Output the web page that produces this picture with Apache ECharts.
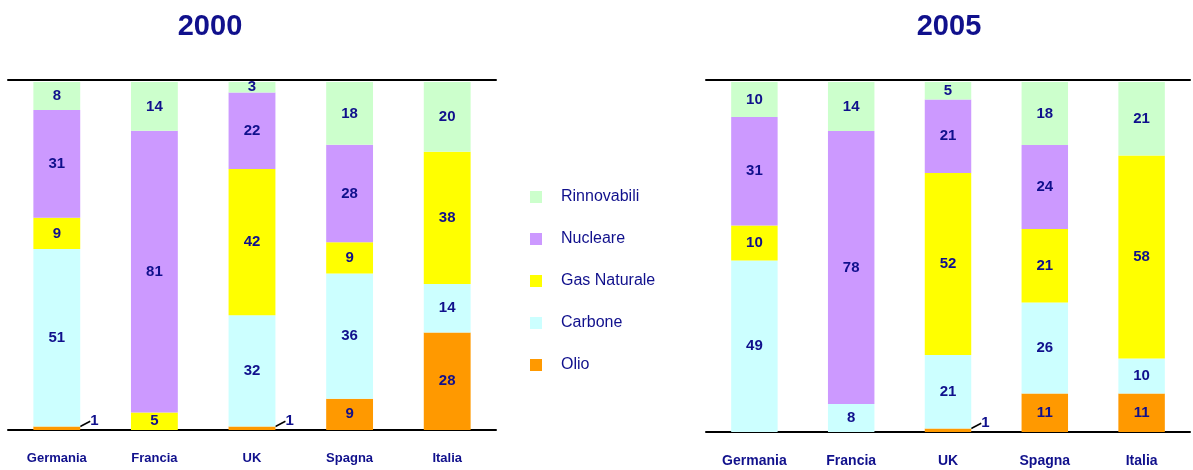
<!DOCTYPE html>
<html><head><meta charset="utf-8">
<script src="https://cdn.jsdelivr.net/npm/echarts@6/dist/echarts.min.js"></script>
<style>html,body{margin:0;padding:0;background:#fff}#c{width:1193px;height:470px}</style>
</head><body><div id="c"></div>
<script>
const categories = ['Germania','Francia','UK','Spagna','Italia'];
const seriesNames = ['Olio','Carbone','Gas Naturale','Nucleare','Rinnovabili'];
const legendOrder = ['Rinnovabili','Nucleare','Gas Naturale','Carbone','Olio'];
// 2000
const olio2000 = [1, 0, 1, 9, 28];
const carbone2000 = [51, 0, 32, 36, 14];
const gas2000 = [9, 5, 42, 9, 38];
const nucleare2000 = [31, 81, 22, 28, 0];
const rinnovabili2000 = [8, 14, 3, 18, 20];
// 2005
const olio2005 = [0, 0, 1, 11, 11];
const carbone2005 = [49, 8, 21, 26, 10];
const gas2005 = [10, 0, 52, 21, 58];
const nucleare2005 = [31, 78, 21, 24, 0];
const rinnovabili2005 = [10, 14, 5, 18, 21];
const titles = ['2000', '2005'];

const colors = {'Olio':'#ff9900','Carbone':'#ccffff','Gas Naturale':'#ffff00','Nucleare':'#cc99ff','Rinnovabili':'#ccffcc'};
const navy = '#10108c';
const font = 'Liberation Sans, Arial, sans-serif';
const data = [
  [olio2000, carbone2000, gas2000, nucleare2000, rinnovabili2000],
  [olio2005, carbone2005, gas2005, nucleare2005, rinnovabili2005]
];

const chart = echarts.init(document.getElementById('c'));
const series = [];
data.forEach((sets, g) => {
  sets.forEach((vals, i) => {
    const name = seriesNames[i];
    series.push({
      name: name, type: 'bar', stack: 'y' + g, xAxisIndex: g * 2, yAxisIndex: g,
      barWidth: '48%',
      itemStyle: { color: colors[name] },
      data: vals.map(v => {
        if (v > 0 && v < 3 && name === 'Olio') {
          return { value: v, label: { show: true, position: 'right', distance: 10 }, labelLine: { show: true, lineStyle: { color: '#000', width: 1.5 } } };
        }
        return v;
      }),
      label: {
        show: true, position: 'inside', color: navy, fontWeight: 'bold', fontSize: 15,
        fontFamily: font,
        formatter: p => (p.value > 0 ? String(p.value) : '')
      },
      labelLayout: p => (name === 'Olio' && p.rect.height < 8) ? { dy: -7 } : {},
      emphasis: { disabled: true }
    });
  });
});

const grids = [
  { left: 8, width: 488, top: 80, height: 350 },
  { left: 706, width: 484, top: 80, height: 352 }
];
const xAxes = [];
const yAxes = [];
grids.forEach((gr, g) => {
  xAxes.push({
    type: 'category', gridIndex: g, data: categories, position: 'bottom',
    axisLine: { lineStyle: { color: '#000', width: 2 } },
    axisTick: { show: false },
    axisLabel: { color: navy, fontWeight: 'bold', fontSize: g === 0 ? 13 : 14, margin: 22, fontFamily: font }
  });
  xAxes.push({
    type: 'category', gridIndex: g, data: categories, position: 'top',
    axisLine: { lineStyle: { color: '#000', width: 2 } },
    axisTick: { show: false }, axisLabel: { show: false }
  });
  yAxes.push({ type: 'value', gridIndex: g, min: 0, max: 100.6, show: false, splitLine: { show: false } });
});

chart.setOption({
  animation: false,
  backgroundColor: '#fff',
  title: [
    { text: titles[0], left: 205, top: 7, textAlign: 'center',
      textStyle: { color: navy, fontSize: 29, fontWeight: 'bold', fontFamily: font } },
    { text: titles[1], left: 944, top: 7, textAlign: 'center',
      textStyle: { color: navy, fontSize: 29, fontWeight: 'bold', fontFamily: font } }
  ],
  legend: {
    data: legendOrder, orient: 'vertical', left: 530, top: 189, padding: 0,
    icon: 'rect', itemWidth: 12, itemHeight: 12, itemGap: 26,
    textStyle: { color: navy, fontSize: 16, padding: [0, 0, 0, 14], fontFamily: font },
    selectedMode: false
  },
  grid: grids,
  xAxis: xAxes,
  yAxis: yAxes,
  series: series
});
</script></body></html>
